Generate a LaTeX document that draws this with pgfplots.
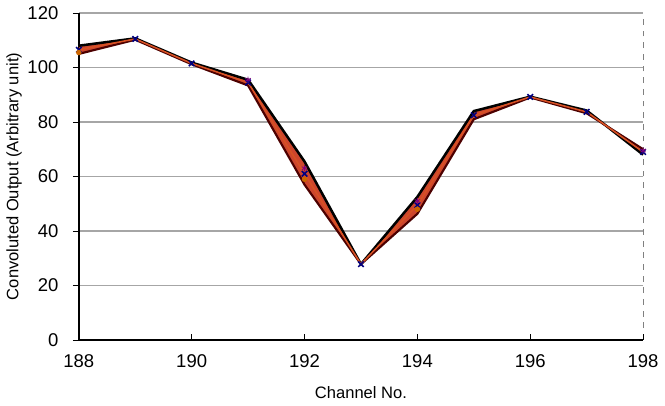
\documentclass[border=0pt]{standalone}
\usepackage{pgfplots}
\pgfplotsset{compat=1.18}
\usepgfplotslibrary{fillbetween}
\usepackage{fontspec}
\setmainfont{Liberation Sans}
\definecolor{bandred}{RGB}{205,70,45}
\begin{document}
\begin{tikzpicture}
\begin{axis}[
  scale only axis, width=290pt, height=168pt,
  xmin=188, xmax=198, ymin=0, ymax=120,
  xtick={188,190,...,198}, ytick={0,20,...,120},
  axis x line*=bottom, axis y line*=left,
  axis line style={black, line width=0.8pt},
  ymajorgrids, grid style={gray!70, line width=0.6pt},
  extra x ticks={198}, extra x tick labels={},
  extra x tick style={grid=major, grid style={gray, dashed, line width=0.6pt}, major tick length=0pt},
  tick style={black}, major tick length=3pt,
  xtick align=inside, ytick align=outside,
  tick label style={font=\fontsize{9.5}{10}\selectfont},
  xticklabel style={yshift=-4pt},
  yticklabel style={xshift=-4pt},
  /pgf/number format/assume math mode=true,
  xlabel={Channel No.}, ylabel={Convoluted Output (Arbitrary unit)},
  label style={font=\fontsize{8.5}{9}\selectfont},
  xlabel style={yshift=-3pt},
  ylabel style={yshift=-4pt},
  clip=false,
]
\addplot[name path=up, draw=black, line width=1.3pt] coordinates {
(188,108) (189,110.7) (190,101.8) (191,95.5) (192,65.5) (193,27.8) (194,52.5) (195,84) (196,89.3) (197,84.2) (198,68)};
\addplot[name path=lo, draw=black!70!red, line width=1.1pt] coordinates {
(188,105) (189,110.2) (190,101.2) (191,93.4) (192,57) (193,27.8) (194,46.3) (195,81) (196,89) (197,83.2) (198,70)};
\addplot[fill=bandred] fill between[of=up and lo];
\addplot[draw=bandred!80!orange, line width=0.8pt, mark=x, mark options={blue!50!black, scale=1}] coordinates {
(188,106.5) (189,110.5) (190,101.5) (191,94.5) (192,61) (193,27.8) (194,49.5) (195,82.5) (196,89.2) (197,83.7) (198,69)};
\addplot[draw=none, mark=*, mark options={orange!80!black, scale=0.6}] coordinates {
(188,105.5) (192,59) (194,48)};
\addplot[draw=none, mark=asterisk, mark options={violet, scale=0.8}] coordinates {
(191,95.5) (192,63) (194,51) (198,69.5)};
\end{axis}
\end{tikzpicture}
\end{document}
